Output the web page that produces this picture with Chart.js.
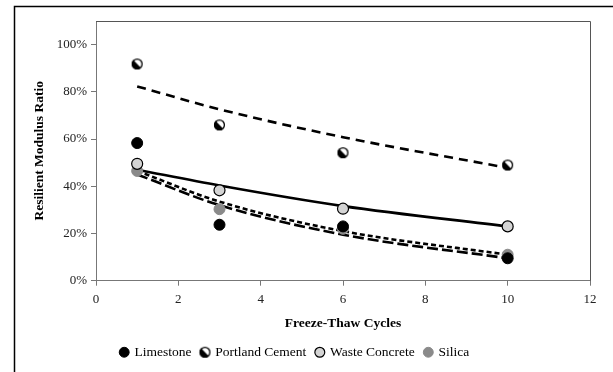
<!DOCTYPE html>
<html>
<head>
<meta charset="utf-8">
<script src="https://cdn.jsdelivr.net/npm/chart.js@4/dist/chart.umd.min.js"></script>
<style>
  html, body { margin: 0; padding: 0; background: #fff; }
  #wrap { position: relative; width: 613px; height: 372px; }
</style>
</head>
<body>
<div id="wrap"><canvas id="ftChart" width="613" height="372"></canvas></div>
<script>
// freeze-thaw cycles tested
const cycles = [1, 3, 6, 10];

// measured resilient modulus ratio (%)
const limestone = [58.3, 23.7, 23, 9.5];
const portland = [91.8, 66, 54.2, 49];
const wasteConcrete = [49.5, 38.3, 30.5, 23];
const silica = [46.5, 30.3, 22, 11];

// trendline values (%)
const limestoneTrend = [45, 32, 19.5, 9.5];
const portlandTrend = [82.3, 72.6, 60.8, 47.8];
const wasteTrend = [47, 40.3, 31.6, 23];
const silicaTrend = [46.5, 33.5, 21, 11];

const xTicks = [0, 2, 4, 6, 8, 10, 12];
const yTicks = [0, 20, 40, 60, 80, 100];

const serif = "'Liberation Serif', 'Times New Roman', serif";

function pts(xs, ys) {
  return xs.map((x, i) => ({ x: x, y: ys[i] }));
}

// half black / half white marker for Portland Cement
function halfDot(r) {
  const c = document.createElement('canvas');
  const s = r * 2 + 2;
  c.width = s; c.height = s;
  const g = c.getContext('2d');
  const m = s / 2;
  g.beginPath(); g.arc(m, m, r, 0, Math.PI * 2); g.fillStyle = '#fff'; g.fill();
  g.beginPath(); g.arc(m, m, r, Math.PI * 0.25, Math.PI * 1.25); g.closePath();
  g.fillStyle = '#000'; g.fill();
  g.beginPath(); g.arc(m, m, r - 0.6, 0, Math.PI * 2);
  g.lineWidth = 1.3; g.strokeStyle = '#000'; g.stroke();
  return c;
}

const frame = {
  id: 'frame',
  afterDraw(chart) {
    const ctx = chart.ctx, a = chart.chartArea;
    ctx.save();
    ctx.strokeStyle = '#000';
    ctx.lineWidth = 1.5;
    ctx.strokeRect(14.5, 6.5, 640, 400);
    ctx.strokeStyle = '#555';
    ctx.lineWidth = 1;
    ctx.beginPath();
    ctx.moveTo(a.left, a.top + 0.5);
    ctx.lineTo(a.right + 0.5, a.top + 0.5);
    ctx.lineTo(a.right + 0.5, a.bottom);
    ctx.stroke();
    ctx.restore();
  }
};

function trend(ys, dash) {
  return {
    label: '',
    data: pts(cycles, ys),
    showLine: true,
    borderColor: '#000',
    borderWidth: 2.6,
    borderDash: dash,
    cubicInterpolationMode: 'monotone',
    pointRadius: 0,
    pointHoverRadius: 0,
    order: 2
  };
}

function marks(label, ys, style) {
  return Object.assign({
    label: label,
    data: pts(cycles, ys),
    showLine: false,
    pointRadius: 5.5,
    pointHoverRadius: 5.5,
    order: 1
  }, style);
}

new Chart(document.getElementById('ftChart'), {
  type: 'scatter',
  data: {
    datasets: [
      marks('Limestone', limestone, { backgroundColor: '#000', borderColor: '#000', borderWidth: 1 }),
      marks('Portland Cement', portland, { pointStyle: halfDot(5.5), backgroundColor: '#000', borderColor: '#000' }),
      marks('Waste Concrete', wasteConcrete, { backgroundColor: '#d4d4d4', borderColor: '#000', borderWidth: 1.2 }),
      marks('Silica', silica, { backgroundColor: '#8a8a8a', borderColor: '#8a8a8a', borderWidth: 1 }),
      trend(limestoneTrend, [11, 4]),
      trend(portlandTrend, [9, 6]),
      trend(wasteTrend, []),
      trend(silicaTrend, [5, 3])
    ]
  },
  options: {
    responsive: false,
    animation: false,
    layout: { padding: { top: 21, right: 23, left: 0, bottom: 3 } },
    plugins: {
      tooltip: { enabled: false },
      legend: {
        position: 'bottom',
        labels: {
          filter: (item) => item.text !== '',
          usePointStyle: true,
          boxWidth: 7,
          boxHeight: 7,
          padding: 10,
          color: '#000',
          font: { family: serif, size: 13.5 }
        }
      }
    },
    scales: {
      x: {
        type: 'linear',
        min: 0,
        max: 12,
        afterBuildTicks: (s) => { s.ticks = xTicks.map(v => ({ value: v })); },
        ticks: { color: '#222', font: { family: serif, size: 13 }, padding: 6 },
        grid: { drawOnChartArea: false, tickLength: 5, color: '#777' },
        border: { color: '#777' },
        title: {
          display: true,
          text: 'Freeze-Thaw Cycles',
          color: '#000',
          font: { family: serif, size: 13.5, weight: 'bold' },
          padding: { top: 2, bottom: 4 }
        }
      },
      y: {
        min: 0,
        max: 110,
        afterBuildTicks: (s) => { s.ticks = yTicks.map(v => ({ value: v })); },
        afterFit: (s) => { s.width = 96; },
        ticks: { color: '#222', font: { family: serif, size: 13 }, padding: 4, callback: (v) => v + '%' },
        grid: { drawOnChartArea: false, tickLength: 5, color: '#777' },
        border: { color: '#777' },
        title: {
          display: true,
          text: 'Resilient Modulus Ratio',
          color: '#000',
          font: { family: serif, size: 13.5, weight: 'bold' },
          padding: { top: 31, bottom: 0 }
        }
      }
    }
  },
  plugins: [frame]
});
</script>
</body>
</html>
